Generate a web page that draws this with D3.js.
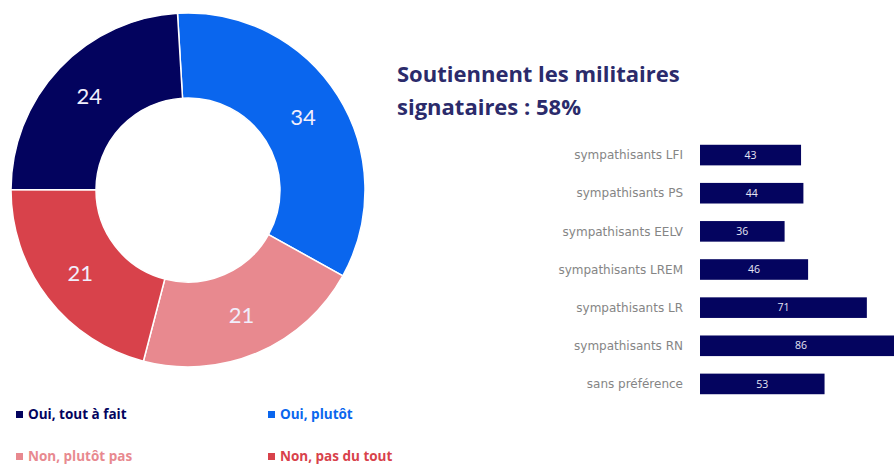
<!DOCTYPE html>
<html>
<head>
<meta charset="utf-8">
<script src="https://cdn.jsdelivr.net/npm/d3@7"></script>
<style>
	body { margin: 0; background: #fff; }
	svg { display: block; font-family: 'Open Sans', Lato, sans-serif; }
</style>
</head>
<body>
<div id="chart"></div>
<script>
const answers = ['Oui, plutôt', 'Non, plutôt pas', 'Non, pas du tout', 'Oui, tout à fait'];
const shares = [34, 21, 21, 24];
const answerColors = ['#0a66ee', '#e8898f', '#d8424b', '#03035e'];

const legendOrder = ['Oui, tout à fait', 'Oui, plutôt', 'Non, plutôt pas', 'Non, pas du tout'];

const groups = [
	'sympathisants LFI',
	'sympathisants PS',
	'sympathisants EELV',
	'sympathisants LREM',
	'sympathisants LR',
	'sympathisants RN',
	'sans préférence'
];
const support = [43, 44, 36, 46, 71, 86, 53];

const width = 894;
const height = 466;

const svg = d3.select('#chart').append('svg').attr('width', width).attr('height', height);

// donut
const cx = 188, cy = 190;
const outerR = 177, innerR = 92;
const startAngle = -3.4 * Math.PI / 180;

const pie = d3
	.pie()
	.sort(null)
	.startAngle(startAngle)
	.endAngle(startAngle + 2 * Math.PI);
const arc = d3.arc().innerRadius(innerR).outerRadius(outerR);
const labelArc = d3.arc().innerRadius(136).outerRadius(136);

const donut = svg.append('g').attr('transform', `translate(${cx},${cy})`);
const slices = donut.selectAll('g').data(pie(shares)).enter().append('g');

slices
	.append('path')
	.attr('d', arc)
	.attr('fill', (d, i) => answerColors[i])
	.attr('stroke', '#fff')
	.attr('stroke-width', 1.5);

slices
	.append('text')
	.attr('transform', (d) => `translate(${labelArc.centroid(d)})`)
	.attr('text-anchor', 'middle')
	.attr('dy', '0.35em')
	.attr('fill', '#f1eefc')
	.style('font-family', 'Lato, sans-serif')
	.style('font-size', '22px')
	.text((d) => d.data);

// legend below donut
const legend = svg
	.selectAll('.legend-item')
	.data(legendOrder)
	.enter()
	.append('g')
	.attr('class', 'legend-item')
	.attr('transform', (d, i) => `translate(${16 + (i % 2) * 252},${419 + Math.floor(i / 2) * 42})`);

legend
	.append('rect')
	.attr('y', -8)
	.attr('width', 7)
	.attr('height', 7)
	.attr('fill', (d) => answerColors[answers.indexOf(d)]);

legend
	.append('text')
	.attr('x', 12)
	.attr('y', 0)
	.attr('fill', (d) => answerColors[answers.indexOf(d)])
	.style('font-size', '13.5px')
	.style('font-weight', 'bold')
	.text((d) => d);

// title
const title = svg
	.append('text')
	.attr('x', 397)
	.attr('y', 82)
	.attr('fill', '#2b2b6b')
	.style('font-size', '22px')
	.style('font-weight', 'bold');
title.append('tspan').attr('x', 397).text('Soutiennent les militaires');
title.append('tspan').attr('x', 397).attr('dy', 33).text('signataires : 58%');

// bars
const xScale = d3.scaleLinear().domain([0, 100]).range([0, 235]);
const yScale = d3.scaleBand().domain(groups).range([136, 403]).paddingInner(0.46).paddingOuter(0.23);

const bars = svg.append('g').attr('transform', 'translate(700,0)');

bars
	.selectAll('rect')
	.data(support)
	.enter()
	.append('rect')
	.attr('x', 0)
	.attr('y', (d, i) => yScale(groups[i]))
	.attr('width', (d) => xScale(d))
	.attr('height', yScale.bandwidth())
	.attr('fill', '#04045f');

bars
	.selectAll('.value')
	.data(support)
	.enter()
	.append('text')
	.attr('class', 'value')
	.attr('x', (d) => xScale(d) / 2)
	.attr('y', (d, i) => yScale(groups[i]) + yScale.bandwidth() / 2)
	.attr('dy', '0.35em')
	.attr('text-anchor', 'middle')
	.attr('fill', '#e6e6f5')
	.style('font-size', '10.5px')
	.text((d) => d);

bars
	.selectAll('.cat')
	.data(groups)
	.enter()
	.append('text')
	.attr('class', 'cat')
	.attr('x', -17)
	.attr('y', (d) => yScale(d) + yScale.bandwidth() / 2)
	.attr('dy', '0.35em')
	.attr('text-anchor', 'end')
	.attr('fill', '#858585')
	.style('font-family', "'DejaVu Sans', sans-serif")
	.style('font-size', '12px')
	.text((d) => d);
</script>
</body>
</html>
